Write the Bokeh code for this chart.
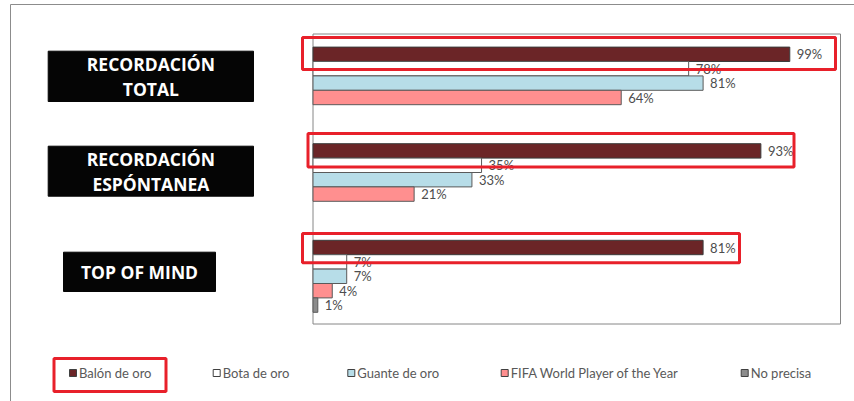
import math
from bokeh.plotting import figure
from bokeh.models import Range1d, ColumnDataSource
from bokeh.transform import dodge
from bokeh.core.properties import value
from bokeh.embed import file_html
from bokeh.resources import INLINE

# ---------------- data ----------------
categories = ["RECORDACIÓN\nTOTAL", "RECORDACIÓN\nESPÓNTANEA", "TOP OF MIND"]
series_names = ["Balón de oro", "Bota de oro", "Guante de oro",
                "FIFA World Player of the Year", "No precisa"]
balon = [99, 93, 81]
bota = [78, 35, 7]
guante = [81, 33, 7]
fifa = [64, 21, 4]
no_precisa = [None, None, 1]
series_values = [balon, bota, guante, fifa, no_precisa]
series_colors = ["#6B2527", "#FFFFFF", "#B7DDE8", "#FF8F8F", "#8C8C8C"]

# ---------------- layout constants ----------------
W, H = 854, 401
X0_PX = 312.5          # pixel of value 0
PXU = 4.816            # pixels per percent
Y0_PX = 34.3           # top of plot area
CAT_PX = 96.6          # pixels per category
BAR_H = 14.4 / CAT_PX  # bar thickness in category units
X_MAX = (840 - X0_PX) / PXU

def X(px):
    return (px - X0_PX) / PXU

def Y(py):
    return (py - Y0_PX) / CAT_PX

p = figure(width=W, height=H, output_backend="svg", toolbar_location=None,
           x_range=Range1d(X(0), X(W)), y_range=Range1d(Y(H), Y(0)),
           min_border=0, outline_line_color=None, background_fill_color="white")
p.axis.visible = False
p.grid.visible = False

# outer frame
p.segment(x0=[X(10), X(10)], y0=[Y(4), Y(4)], x1=[X(10), X(W + 5)], y1=[Y(H + 5), Y(4)],
          line_color="#8C8C8C", line_width=1)

# plot area box
p.quad(left=[0], right=[X_MAX], top=[Y(33.5)], bottom=[Y(323.5)],
       fill_color="white", line_color="#868686", line_width=1)

cat_pos = [i + 0.5 for i in range(len(categories))]

for k, (name, vals, col) in enumerate(zip(series_names, series_values, series_colors)):
    off = (k - 2) * BAR_H
    v = [float("nan") if x is None else x for x in vals]
    src = ColumnDataSource(dict(y=cat_pos, v=v))
    p.hbar(y=dodge("y", off, range=p.y_range), left=0, right="v", height=BAR_H,
           source=src, fill_color=col,
           line_color="#3C3C3C" if k == 0 else "#5A5A5A", line_width=1)
    ly = [c + off for c, x in zip(cat_pos, vals) if x is not None]
    lx = [x for x in vals if x is not None]
    lt = [f"{x}%" for x in vals if x is not None]
    p.text(x=lx, y=ly, text=lt, x_offset=7, text_align="left", text_baseline="middle",
           text_font=value("Lato"), text_font_size="13px", text_color="#4D4D4D")

# category label boxes
boxes = [(47.7, 253, 50.7, 101), (47.7, 253, 145.7, 195.7), (63, 215, 251.7, 291)]
for (l, r, t, b), cat in zip(boxes, categories):
    p.quad(left=[X(l)], right=[X(r)], top=[Y(t)], bottom=[Y(b)],
           fill_color="#050505", line_color="#050505")
    lines = cat.split("\n")
    cy = (t + b) / 2
    n = len(lines)
    for j, ln in enumerate(lines):
        yy = cy + (j - (n - 1) / 2) * 25
        p.text(x=[X((l + r) / 2)], y=[Y(yy)], text=[ln], text_align="center",
               text_baseline="middle", text_font=value("Open Sans"),
               text_font_style="bold", text_font_size="17.5px", text_color="white")

# red highlight rectangles
RED = "#E8202A"
reds = [(302, 835, 37, 69), (307.5, 793.5, 133, 166.5), (302, 739, 233, 262.3),
        (53.5, 165.5, 358, 391)]
for (l, r, t, b) in reds:
    p.quad(left=[X(l)], right=[X(r)], top=[Y(t)], bottom=[Y(b)],
           fill_color=None, line_color=RED, line_width=3)

# legend
leg_x = [69, 212.7, 347.3, 500.7, 740.7]
leg_y = 372.5
for lx, name, col in zip(leg_x, series_names, series_colors):
    p.quad(left=[X(lx)], right=[X(lx + 7)], top=[Y(leg_y - 3.5)], bottom=[Y(leg_y + 3.5)],
           fill_color=col, line_color="#404040", line_width=1)
    p.text(x=[X(lx + 9.5)], y=[Y(leg_y)], text=[name], text_align="left",
           text_baseline="middle", text_font=value("Lato"), text_font_size="13px",
           text_color="#595959")

open("out.html", "w").write(file_html(p, INLINE))
